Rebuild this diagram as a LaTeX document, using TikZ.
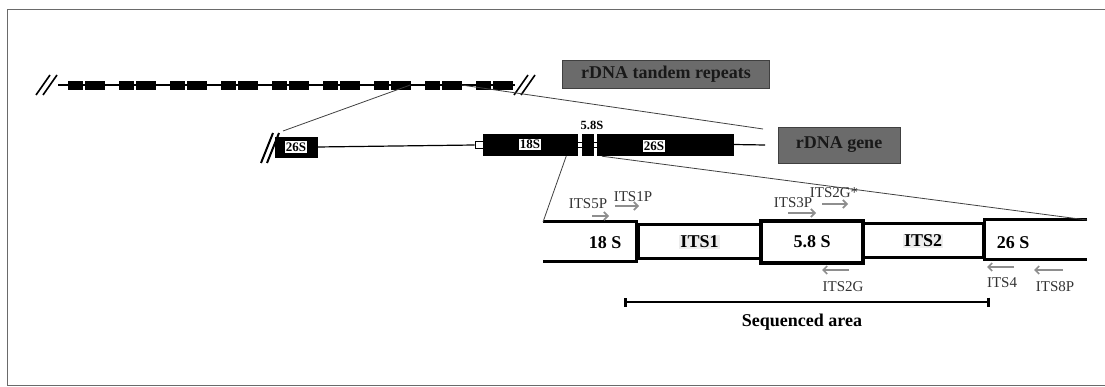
\documentclass[tikz,border=0pt]{standalone}
\usepackage{fontspec}
\setmainfont{Liberation Serif}
\usetikzlibrary{arrows.meta,positioning,calc}
\definecolor{rdnagray}{HTML}{6B6B6B}
\definecolor{primergray}{HTML}{8E8E8E}
\definecolor{framegray}{HTML}{6A6A6A}
\tikzset{
  tagbox/.style={rectangle, draw=black!75, fill=rdnagray, text=black!90, font=\fontsize{18}{20}\selectfont\bfseries, inner sep=0pt, align=center},
  block/.style={rectangle, fill=black, draw=black, inner sep=0pt, minimum height=8pt},
  geneblock/.style={rectangle, fill=black, draw=black, inner sep=0pt, minimum height=21pt},
  blocklabel/.style={rectangle, fill=white, inner sep=1.2pt, font=\fontsize{13}{14}\selectfont\bfseries},
  gap/.style={rectangle, fill=white, draw=black, line width=0.6pt, inner sep=0pt, minimum width=5pt, minimum height=5pt},
  region/.style={rectangle, draw=black, line width=3pt, fill=white, inner sep=0pt, minimum height=34pt},
  regionlabel/.style={font=\fontsize{18}{20}\selectfont\bfseries, inner sep=1pt},
  seg/.style={line width=3pt},
  primer/.style={draw=primergray, line width=1.7pt, -{Straight Barb[length=4pt,width=8pt]}},
  primerlabel/.style={font=\fontsize{15}{16}\selectfont, text=black!80, inner sep=0pt},
  zoomline/.style={draw=black!75, line width=0.8pt},
  backbone/.style={line width=1.2pt},
}

\begin{document}
\begin{tikzpicture}[x=1pt,y=-1pt]
  \useasboundingbox (0,0) rectangle (1105,387);
  \draw[framegray, line width=0.8pt] (1105,9) -- (7,9) -- (7,385) -- (1105,385);

  % tandem repeats
  \draw[backbone] (58,85) -- (515,85);
  \foreach \i in {0,...,8}{
    \node[block, minimum width=14pt, anchor=west] (repa\i) at (68+51*\i,85) {};
    \node[block, minimum width=19pt, anchor=west] (repb\i) at (85+51*\i,85) {};
  }
  \draw[line width=1.6pt] (36,95) -- (50,75) (43,95) -- (57,75);
  \draw[line width=1.6pt] (514,95) -- (528,75) (521,95) -- (535,75);
  \node[tagbox, minimum width=207pt, minimum height=28pt] (tandem) at (666,74) {rDNA tandem repeats};

  % one gene
  \draw[line width=2pt] (261,163) -- (273,133) (267,163) -- (279,133);
  \node[geneblock, minimum width=42pt, minimum height=20pt] (small26) at (296,147) {};
  \node[gap, minimum width=8pt, minimum height=7pt] (link) at (479,145) {};
  \node[geneblock, minimum width=94pt] (b18) at (530,144.5) {};
  \node[geneblock, minimum width=11pt] (b58) at (587.5,144.5) {};
  \node[geneblock, minimum width=136pt] (b26) at (665,144.5) {};
  \coordinate (geneend) at (765,145);
  \draw[backbone] (small26.east) -- (link.west);
  \draw[backbone] (b26.east) -- (geneend);
  \node[gap] at (579.5,145) {};
  \node[gap, minimum width=4pt] at (595,145) {};
  \node[blocklabel] at (small26) {26S};
  \node[blocklabel] at (b18) {18S};
  \node[blocklabel] at (654,146) {26S};
  \node[font=\fontsize{12.5}{14}\selectfont\bfseries, inner sep=0pt] (lab58) at (592,125) {5.8S};
  \node[tagbox, minimum width=122pt, minimum height=36pt] (gene) at (839,145) {rDNA gene};

  % zoom lines
  \coordinate (zoomL) at (283,131);
  \coordinate (zoomR) at (763,129);
  \draw[zoomline] (repb6.east) -- (zoomL);
  \draw[zoomline] (repb7.east) -- (zoomR);

  % ITS region
  \node[region, minimum width=123pt] (its1) at (699.5,242) {};
  \node[region, minimum width=120pt] (its2) at (923,241) {};
  \node[region, minimum width=102pt, minimum height=42pt, line width=3.4pt] (s58) at (812,242) {};
  \coordinate (l18t) at (543,222);
  \coordinate (l18b) at (543,262);
  \coordinate (r26t) at (1087,220);
  \coordinate (r26b) at (1087,260);
  \draw[seg] (l18t) -- (its1.west |- l18t) -- (its1.west |- l18b) -- (l18b);
  \draw[seg] (r26t) -- (its2.east |- r26t) -- (its2.east |- r26b) -- (r26b);
  \node[regionlabel] at (605,243) {18 S};
  \node[regionlabel, fill=black!7] at (its1) {ITS1};
  \node[regionlabel] at (s58) {5.8 S};
  \node[regionlabel, fill=black!7] at (its2) {ITS2};
  \node[regionlabel] at (1013,243) {26 S};
  \draw[zoomline] ($(b18.south east)+(-11,1)$) -- (l18t);
  \draw[zoomline] ($(b26.south west)+(5,1)$) -- (r26t);

  % primers
  \node[primerlabel] (its5p) at (588,204) {ITS5P};
  \node[primerlabel] (its1p) at (633,197) {ITS1P};
  \node[primerlabel] (its3p) at (793,203) {ITS3P};
  \node[primerlabel] (its2gs) at (834,193) {ITS2G*};
  \node[primerlabel] (its2g) at (843,287) {ITS2G};
  \node[primerlabel] (its4) at (1002,283) {ITS4};
  \node[primerlabel] (its8p) at (1055,287) {ITS8P};
  \draw[primer] (592,216) -- (609,216);
  \draw[primer] (615,206) -- (639,206);
  \draw[primer] (788,213) -- (816,213);
  \draw[primer] (822,204) -- (848,204);
  \draw[primer] (849,270) -- (822,270);
  \draw[primer] (1014,267) -- (987,267);
  \draw[primer] (1063,270) -- (1034,270);

  % sequenced area
  \coordinate (seqL) at (624,302);
  \coordinate (seqR) at (990,302);
  \draw[line width=2.8pt, {Bar[width=9pt]}-{Bar[width=9pt]}] (seqL) -- (seqR);
  \node[regionlabel] (seqtext) at (802,322) {Sequenced area};
\end{tikzpicture}
\end{document}
